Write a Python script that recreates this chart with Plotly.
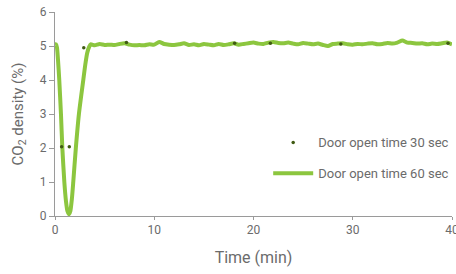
import plotly.graph_objects as go

# Door open time 60 sec (continuous line)
t60 = [0.0, 0.1, 0.2, 0.3, 0.43, 0.6, 0.74, 0.94, 1.1, 1.25, 1.41, 1.55, 1.7, 1.84, 2.1, 2.41, 2.85, 3.05, 3.25, 3.45, 3.6,
       4.0, 4.5, 5.0, 5.5, 6.0, 6.5, 7.0, 7.5, 8.0, 8.5, 9.0, 9.5, 10.0, 10.5, 11.0, 11.5, 12.0, 12.5, 13.0,
       13.5, 14.0, 14.5, 15.0, 15.5, 16.0, 16.5, 17.0, 17.5, 18.0, 18.5, 19.0, 19.5, 20.0, 20.5, 21.0, 21.5,
       22.0, 22.5, 23.0, 23.5, 24.0, 24.5, 25.0, 25.5, 26.0, 26.5, 27.0, 27.5, 28.0, 28.5, 29.0, 29.5, 30.0,
       30.5, 31.0, 31.5, 32.0, 32.5, 33.0, 33.5, 34.0, 34.5, 35.0, 35.5, 36.0, 36.5, 37.0, 37.5, 38.0, 38.5,
       39.0, 39.5, 40.0]
co2_60 = [5.05, 5.05, 4.95, 4.6, 4.0, 3.0, 2.0, 1.0, 0.45, 0.15, 0.05, 0.15, 0.5, 1.0, 2.0, 3.0, 4.0, 4.45, 4.8, 4.98, 5.05,
          5.02, 5.06, 5.03, 5.04, 5.03, 5.06, 5.08, 5.04, 5.02, 5.03, 5.02, 5.05, 5.04, 5.12, 5.06, 5.04, 5.03,
          5.05, 5.08, 5.03, 5.05, 5.02, 5.06, 5.04, 5.02, 5.06, 5.03, 5.05, 5.08, 5.04, 5.06, 5.08, 5.1,
          5.07, 5.06, 5.1, 5.12, 5.09, 5.08, 5.1, 5.07, 5.05, 5.09, 5.07, 5.05, 5.07, 5.03, 5.0, 5.06, 5.07,
          5.08, 5.05, 5.04, 5.06, 5.05, 5.07, 5.08, 5.05, 5.06, 5.09, 5.07, 5.1, 5.16, 5.1, 5.09, 5.07,
          5.08, 5.05, 5.07, 5.06, 5.08, 5.1, 5.05]

# Door open time 30 sec (sparse dark markers)
t30 = [0.67, 1.44, 2.9, 7.2, 18.1, 21.7, 28.8, 39.6]
co2_30 = [2.04, 2.04, 4.95, 5.1, 5.08, 5.08, 5.06, 5.08]

x_ticks = [0, 10, 20, 30, 40]
y_ticks = [0, 1, 2, 3, 4, 5, 6]

axis_color = "#9a9a9a"
text_color = "#6b6b6b"
font_family = "Roboto, 'DejaVu Sans', sans-serif"

fig = go.Figure()
fig.add_trace(go.Scatter(
    x=t60, y=co2_60, mode="lines", name="Door open time 60 sec",
    line=dict(color="#8cc63f", width=4, shape="spline", smoothing=0.6),
    legendgroup="b", legendrank=2,
))
fig.add_trace(go.Scatter(
    x=t30, y=co2_30, mode="markers", name="Door open time 30 sec",
    marker=dict(color="#3f5a12", size=3.5),
    legendgroup="a", legendrank=1,
))

fig.update_layout(
    width=456, height=274,
    margin=dict(l=55, r=4, t=12, b=58, autoexpand=False),
    paper_bgcolor="white", plot_bgcolor="white",
    font=dict(family=font_family, color=text_color, size=12),
    showlegend=True,
    legend=dict(
        x=0.537, y=0.434, xanchor="left", yanchor="top",
        bgcolor="rgba(0,0,0,0)",
        font=dict(size=13, color=text_color),
        tracegroupgap=11,
        traceorder="grouped",
        itemwidth=40,
    ),
    xaxis=dict(
        range=[0, 40], tickvals=x_ticks, showgrid=False, zeroline=False,
        showline=True, linecolor=axis_color, linewidth=1,
        ticks="outside", ticklen=3, tickcolor=axis_color,
        tickfont=dict(size=12, color=text_color), automargin=False,
        ticklabeloverflow="allow",
        title=dict(text="Time (min)", font=dict(size=16, color=text_color), standoff=15),
    ),
    yaxis=dict(
        range=[0, 6], tickvals=y_ticks, showgrid=False, zeroline=False,
        showline=True, linecolor=axis_color, linewidth=1,
        ticks="outside", ticklen=5, tickcolor=axis_color,
        tickfont=dict(size=12, color=text_color), automargin=False,
        title=dict(text="CO<sub>2</sub> density (%)", font=dict(size=15, color=text_color), standoff=12),
    ),
)

fig.write_html("out.html", config={"displayModeBar": False},
               post_script="document.body.style.margin='0';document.body.style.padding='0';")
